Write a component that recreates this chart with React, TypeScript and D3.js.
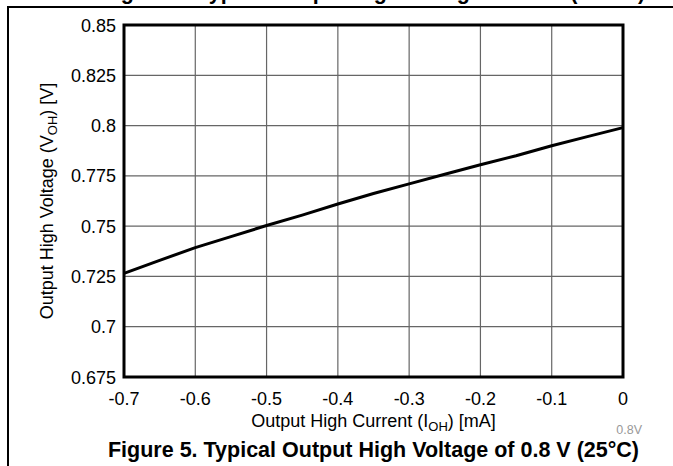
import React from 'react';
import * as d3 from 'd3';

// output high current (mA)
const currents = [-0.7, -0.65, -0.6, -0.55, -0.5, -0.45, -0.4, -0.35, -0.3, -0.25, -0.2, -0.15, -0.1, -0.05, 0];
// output high voltage (V)
const voltages = [0.7265, 0.733, 0.7393, 0.7448, 0.7503, 0.7555, 0.761, 0.7662, 0.771, 0.7758, 0.7805, 0.785, 0.79, 0.7945, 0.799];

const xTicks = [-0.7, -0.6, -0.5, -0.4, -0.3, -0.2, -0.1, 0];
const yTicks = [0.675, 0.7, 0.725, 0.75, 0.775, 0.8, 0.825, 0.85];

export default function App(): JSX.Element {
  const W = 673;
  const H = 466;
  const margin = { top: 25, right: 50, bottom: 89, left: 124 };
  const x = d3.scaleLinear().domain([-0.7, 0]).range([margin.left, W - margin.right]);
  const y = d3.scaleLinear().domain([0.675, 0.85]).range([H - margin.bottom, margin.top]);

  const line = d3
    .line<number>()
    .x((_, i) => x(currents[i]))
    .y((d) => y(d));

  const font = 'Liberation Sans, Arial, sans-serif';
  const cx = (x(-0.7) + x(0)) / 2;

  return (
    <div style={{ position: 'fixed', left: 0, top: 0, width: W, height: H, background: 'white' }}>
      <svg width={W} height={H} style={{ display: 'block' }} fontFamily={font}>
        {/* page frame */}
        <path d={`M8,${H} V7 H${W}`} fill="none" stroke="#000" strokeWidth={2} />
        {/* previous figure's caption, cut off by the page crop */}
        <text x={cx} y={-1} textAnchor="middle" fontSize={21.5} fontWeight="bold" fill="#000">
          Figure 4. Typical Output High Voltage of 0.8 V (−40°C)
        </text>

        {/* grid */}
        {xTicks.map((t) => (
          <line key={'gx' + t} x1={x(t)} x2={x(t)} y1={y(0.85)} y2={y(0.675)} stroke="#666" strokeWidth={1.2} />
        ))}
        {yTicks.map((t) => (
          <line key={'gy' + t} x1={x(-0.7)} x2={x(0)} y1={y(t)} y2={y(t)} stroke="#666" strokeWidth={1.2} />
        ))}

        {/* data */}
        <path d={line(voltages) || ''} fill="none" stroke="#000" strokeWidth={3} strokeLinejoin="round" />

        {/* plot border */}
        <rect
          x={x(-0.7)}
          y={y(0.85)}
          width={x(0) - x(-0.7)}
          height={y(0.675) - y(0.85)}
          fill="none"
          stroke="#000"
          strokeWidth={3}
        />

        {/* tick labels */}
        {xTicks.map((t) => (
          <text key={'tx' + t} x={x(t)} y={y(0.675) + 28} textAnchor="middle" fontSize={18} fill="#000">
            {String(t)}
          </text>
        ))}
        {yTicks.map((t) => (
          <text key={'ty' + t} x={x(-0.7) - 8} y={y(t) + 6.5} textAnchor="end" fontSize={18} fill="#000">
            {String(t)}
          </text>
        ))}

        {/* axis titles */}
        <text x={cx} y={427} textAnchor="middle" fontSize={18} fill="#000">
          Output High Current (I<tspan fontSize={13} dy={4}>OH</tspan>
          <tspan dy={-4}>) [mA]</tspan>
        </text>
        <text transform="translate(53,201) rotate(-90)" textAnchor="middle" fontSize={18} fill="#000">
          Output High Voltage (V<tspan fontSize={13} dy={4}>OH</tspan>
          <tspan dy={-4}>) [V]</tspan>
        </text>

        <text x={642} y={434} textAnchor="end" fontSize={12.5} fill="#999">
          0.8V
        </text>
        <text x={cx} y={457} textAnchor="middle" fontSize={21.5} fontWeight="bold" fill="#000">
          Figure 5. Typical Output High Voltage of 0.8 V (25°C)
        </text>
      </svg>
    </div>
  );
}
